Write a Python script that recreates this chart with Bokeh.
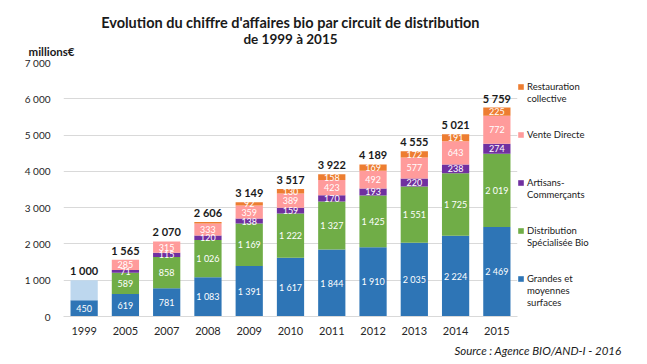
from bokeh.plotting import figure
from bokeh.models import FixedTicker, ColumnDataSource, FactorRange, Range1d, Title, Legend, LegendItem
from bokeh.core.properties import value
from bokeh.embed import file_html
from bokeh.resources import INLINE

years = ["1999", "2005", "2007", "2008", "2009", "2010", "2011", "2012", "2013", "2014", "2015"]
gms = [450, 619, 781, 1083, 1391, 1617, 1844, 1910, 2035, 2224, 2469]
dist_bio = [0, 589, 858, 1026, 1169, 1222, 1327, 1425, 1551, 1725, 2019]
artisans = [0, 71, 115, 120, 138, 159, 170, 193, 220, 238, 274]
vente_directe = [0, 285, 315, 333, 359, 389, 423, 492, 577, 643, 772]
restauration = [0, 1, 1, 44, 92, 130, 158, 169, 172, 191, 225]
non_reparti = [550, 0, 0, 0, 0, 0, 0, 0, 0, 0, 0]
totals = [1000, 1565, 2070, 2606, 3149, 3517, 3922, 4189, 4555, 5021, 5759]
y_ticks = [0, 1000, 2000, 3000, 4000, 5000, 6000, 7000]
y_tick_labels = ["0", "1 000", "2 000", "3 000", "4 000", "5 000", "6 000", "7 000"]

series_names = ["gms", "dist_bio", "artisans", "vente_directe", "restauration", "non_reparti"]
series_values = [gms, dist_bio, artisans, vente_directe, restauration, non_reparti]
colors = ["#2E75B6", "#70AD47", "#7030A0", "#FF9B9B", "#ED7D31", "#BDD7EE"]
# legend rows (top to bottom): (series index or None, text)
legend_rows = [
    (4, "Restauration"), (None, "collective"), (None, " "), (None, " "),
    (3, "Vente Directe"), (None, " "), (None, " "), (None, " "),
    (2, "Artisans-"), (None, "Commerçants"), (None, " "), (None, " "),
    (1, "Distribution"), (None, "Spécialisée Bio"), (None, " "), (None, " "),
    (0, "Grandes et"), (None, "moyennes"), (None, "surfaces"),
]

FONT = "Lato"
TXT = "#1a1a1a"


def fmt(v):
    return f"{v:,}".replace(",", " ")


data = {"years": years}
for n, v in zip(series_names, series_values):
    data[n] = v
src = ColumnDataSource(data)

p = figure(x_range=FactorRange(*years), y_range=Range1d(0, 7000),
           frame_width=454, frame_height=254, output_backend="svg", toolbar_location=None,
           min_border_left=63, min_border_right=130, min_border_top=62, min_border_bottom=48)
p.title.visible = False
p.outline_line_color = None
p.background_fill_color = "white"

renderers = p.vbar_stack(series_names, x="years", width=0.66, source=src, color=colors, line_color=None)
dummy = p.vbar(x=[], top=[], width=0.5, fill_alpha=0, line_alpha=0)

# segment labels
lx, ly, lt = [], [], []
bottoms = [0] * len(years)
for n, vals in zip(series_names, series_values):
    for i, v in enumerate(vals):
        if n != "non_reparti" and v >= 50:
            lx.append(years[i])
            ly.append(bottoms[i] + v / 2)
            lt.append(fmt(v))
        bottoms[i] += v
p.text(x=lx, y=ly, text=lt, text_align="center", text_baseline="middle",
       text_color="white", text_font_size="9px", text_font=value(FONT))

# totals
p.text(x=years, y=totals, text=[fmt(t) for t in totals], text_align="center",
       text_baseline="bottom", y_offset=-3, text_color=TXT,
       text_font_size="11px", text_font_style="bold", text_font=value(FONT))

# axes
p.yaxis.ticker = FixedTicker(ticks=y_ticks)
p.yaxis.major_label_overrides = dict(zip(y_ticks, y_tick_labels))
p.yaxis.axis_line_color = None
p.yaxis.major_tick_line_color = None
p.yaxis.minor_tick_line_color = None
p.yaxis.major_tick_out = 0
p.yaxis.major_label_standoff = 13
p.yaxis.major_label_text_font_size = "10px"
p.yaxis.major_label_text_font = FONT
p.yaxis.major_label_text_color = "#262626"

p.xaxis.axis_line_color = "#d9d9d9"
p.xaxis.major_tick_line_color = None
p.xaxis.minor_tick_line_color = None
p.xaxis.major_tick_out = 0
p.xaxis.major_label_standoff = 10
p.xaxis.major_label_text_font_size = "11px"
p.xaxis.major_label_text_font = FONT
p.xaxis.major_label_text_color = "#262626"

p.xgrid.grid_line_color = None
p.ygrid.grid_line_color = "#d9d9d9"
p.ygrid.grid_line_width = 1

# titles (first added = nearest to the frame)
p.add_layout(Title(text="millions€", align="left", offset=-35, standoff=10,
                   text_font=FONT, text_font_size="11.5px", text_font_style="bold",
                   text_color=TXT), "above")
p.add_layout(Title(text="de 1999 à 2015", align="center", offset=22, standoff=-18,
                   text_font=FONT, text_font_size="13.5px", text_font_style="bold",
                   text_color=TXT), "above")
p.add_layout(Title(text="Evolution du chiffre d'affaires bio par circuit de distribution",
                   align="center", offset=12, standoff=14,
                   text_font=FONT, text_font_size="14.5px", text_font_style="bold",
                   text_color=TXT), "above")
p.add_layout(Title(text="Source : Agence BIO/AND-I - 2016", align="right", offset=-104,
                   standoff=8, text_font=FONT, text_font_size="11.5px",
                   text_font_style="italic", text_color=TXT), "below")

# legend
items = []
for idx, txt in legend_rows:
    r = renderers[idx] if idx is not None else dummy
    items.append(LegendItem(label=txt, renderers=[r]))
legend = Legend(items=items, location="top_left", orientation="vertical",
                glyph_width=7, glyph_height=7, label_height=12, spacing=0,
                label_standoff=3, padding=18, margin=0,
                title=" ", title_text_font_size="9px", title_standoff=8,
                border_line_color=None, background_fill_alpha=0,
                label_text_font=FONT, label_text_font_size="9.5px",
                label_text_color=TXT)
p.add_layout(legend, "right")

open("out.html", "w").write(file_html(p, INLINE))
